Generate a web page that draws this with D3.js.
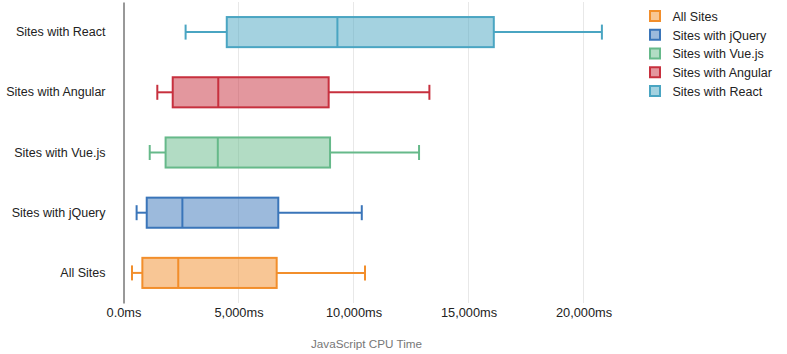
<!DOCTYPE html>
<html>
<head>
<meta charset="utf-8">
<script src="https://cdn.jsdelivr.net/npm/d3@7"></script>
<style>
  html, body { margin: 0; padding: 0; background: #fff; }
  svg { display: block; font-family: "Liberation Sans", Arial, Helvetica, sans-serif; }
</style>
</head>
<body>
<svg id="chart" width="787" height="354"></svg>
<script>
// ---- data ----
const categories = ["Sites with React", "Sites with Angular", "Sites with Vue.js", "Sites with jQuery", "All Sites"];
const legendOrder = ["All Sites", "Sites with jQuery", "Sites with Vue.js", "Sites with Angular", "Sites with React"];
const mins    = [2700, 1470, 1140,  570,  370];
const q1s     = [4490, 2140, 1830, 1010,  820];
const medians = [9300, 4120, 4100, 2560, 2380];
const q3s     = [16100, 8920, 8980, 6730, 6660];
const maxs    = [20800, 13300, 12850, 10360, 10500];
const colors  = ["#4aa5c2", "#c7303e", "#66b98a", "#3a75b9", "#f28e2b"];
const tickValues = [0, 5000, 10000, 15000, 20000];
const tickLabels = ["0.0ms", "5,000ms", "10,000ms", "15,000ms", "20,000ms"];
const axisTitle = "JavaScript CPU Time";

const rows = categories.map((c, i) => ({
  name: c, min: mins[i], q1: q1s[i], median: medians[i], q3: q3s[i], max: maxs[i], color: colors[i]
}));
const colorOf = Object.fromEntries(rows.map(r => [r.name, r.color]));

// ---- layout ----
const svg = d3.select("#chart");
const x = d3.scaleLinear().domain([0, 20000]).range([123.5, 583.5]);
const y = d3.scaleBand().domain(categories).range([2, 303]).paddingInner(0.5).paddingOuter(0.25);
const bw = y.bandwidth();

// grid
svg.append("g").selectAll("line").data(tickValues.slice(1)).join("line")
  .attr("x1", d => x(d)).attr("x2", d => x(d))
  .attr("y1", 2).attr("y2", 303)
  .attr("stroke", "#e8e8e8").attr("stroke-width", 1);

// x axis labels
const xAxis = d3.axisBottom(x).tickValues(tickValues).tickSize(0).tickPadding(0)
  .tickFormat((d, i) => tickLabels[i]);
const gx = svg.append("g").attr("transform", "translate(0,308)").call(xAxis);
gx.select(".domain").remove();
gx.selectAll("text").attr("font-size", "12.8px").attr("fill", "#222")
  .attr("font-family", "Liberation Sans, Arial, sans-serif").attr("dy", "0.71em");

// axis title
svg.append("text").attr("x", 366.5).attr("y", 348).attr("text-anchor", "middle")
  .attr("font-size", "11.7px").attr("fill", "#777").text(axisTitle);

// y axis
const yAxis = d3.axisLeft(y).tickSize(0).tickPadding(18);
const gy = svg.append("g").attr("transform", "translate(123.5,0)").call(yAxis);
gy.select(".domain").attr("stroke", "#333").attr("stroke-width", 1);
gy.selectAll("text").attr("font-size", "12.5px").attr("fill", "#222")
  .attr("font-family", "Liberation Sans, Arial, sans-serif");

// boxes
const g = svg.append("g").selectAll("g").data(rows).join("g")
  .attr("transform", d => `translate(0,${y(d.name)})`);

g.append("line").attr("x1", d => x(d.min)).attr("x2", d => x(d.q1))
  .attr("y1", bw / 2).attr("y2", bw / 2).attr("stroke", d => d.color).attr("stroke-width", 2);
g.append("line").attr("x1", d => x(d.q3)).attr("x2", d => x(d.max))
  .attr("y1", bw / 2).attr("y2", bw / 2).attr("stroke", d => d.color).attr("stroke-width", 2);
g.append("line").attr("x1", d => x(d.min)).attr("x2", d => x(d.min))
  .attr("y1", bw / 2 - 7.5).attr("y2", bw / 2 + 7.5).attr("stroke", d => d.color).attr("stroke-width", 2);
g.append("line").attr("x1", d => x(d.max)).attr("x2", d => x(d.max))
  .attr("y1", bw / 2 - 7.5).attr("y2", bw / 2 + 7.5).attr("stroke", d => d.color).attr("stroke-width", 2);
g.append("rect").attr("x", d => x(d.q1)).attr("width", d => x(d.q3) - x(d.q1))
  .attr("y", 0).attr("height", bw)
  .attr("fill", d => d.color).attr("fill-opacity", 0.5)
  .attr("stroke", d => d.color).attr("stroke-width", 2);
g.append("line").attr("x1", d => x(d.median)).attr("x2", d => x(d.median))
  .attr("y1", 0).attr("y2", bw).attr("stroke", d => d.color).attr("stroke-width", 2);

// legend
const lg = svg.append("g").attr("transform", "translate(649,10)");
const li = lg.selectAll("g").data(legendOrder).join("g")
  .attr("transform", (d, i) => `translate(0,${i * 18.75})`);
li.append("rect").attr("x", 1).attr("y", 1).attr("width", 10).attr("height", 10)
  .attr("fill", d => colorOf[d]).attr("fill-opacity", 0.5)
  .attr("stroke", d => colorOf[d]).attr("stroke-width", 2);
li.append("text").attr("x", 23.5).attr("y", 6.5).attr("dy", "0.35em")
  .attr("font-size", "12.5px").attr("fill", "#222").text(d => d);
</script>
</body>
</html>
